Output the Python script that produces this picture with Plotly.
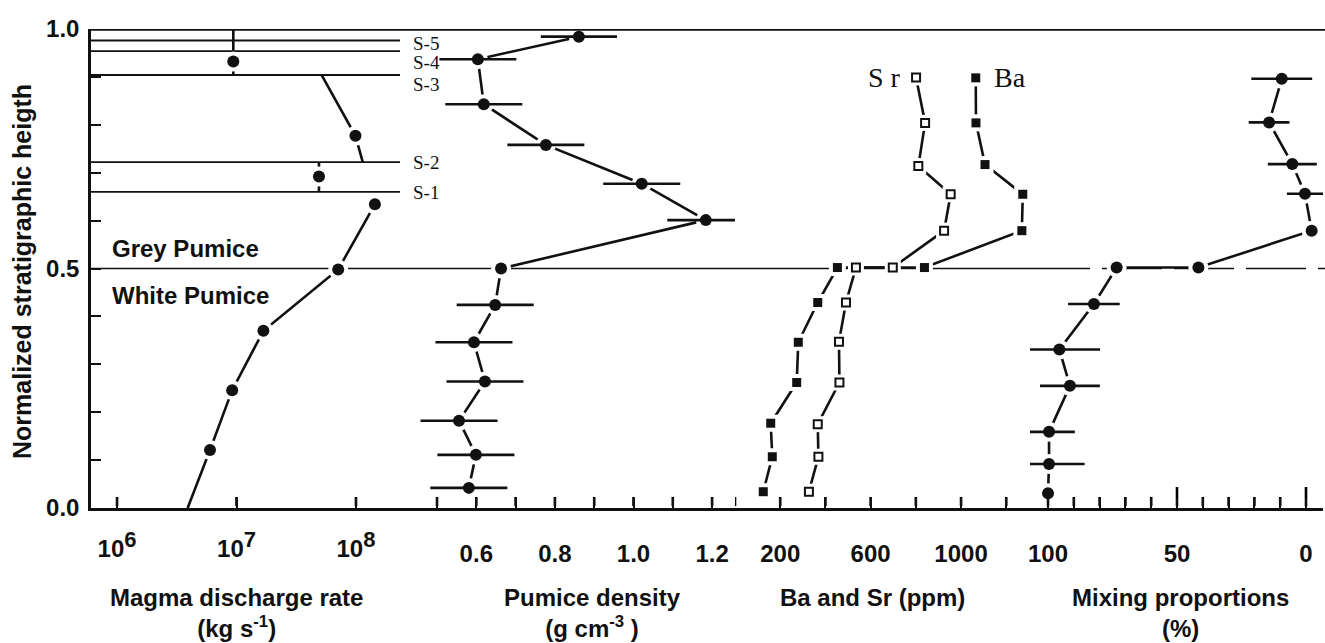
import plotly.graph_objects as go

# ---------------- data ----------------
# Panel 1: magma discharge rate (kg/s), lower continuous part
magma_height = [0.000, 0.121, 0.246, 0.370, 0.498, 0.634]
magma_rate = [3.9e6, 6.0e6, 9.2e6, 1.68e7, 7.1e7, 1.44e8]
magma_has_marker = [False, True, True, True, True, True]

# layered upper part (between S horizons)
layer_names = ["S-1", "S-2", "S-3", "S-4", "S-5"]
layer_heights = [0.660, 0.722, 0.904, 0.954, 0.976]

step1_height = [0.660, 0.692, 0.722]
step1_rate = [4.9e7, 4.9e7, 4.9e7]
step1_has_marker = [False, True, False]

mid_height = [0.722, 0.777, 0.904]
mid_rate = [1.14e8, 9.9e7, 5.15e7]
mid_has_marker = [False, True, False]

top_height = [0.904, 0.932, 1.000]
top_rate = [9.4e6, 9.4e6, 9.4e6]
top_has_marker = [False, True, False]

# Panel 2: pumice density (g/cm3)
density_height = [0.042, 0.111, 0.182, 0.264, 0.346, 0.424, 0.500, 0.601, 0.677, 0.758, 0.843, 0.937, 0.984]
density = [0.581, 0.599, 0.556, 0.622, 0.594, 0.648, 0.663, 1.184, 1.021, 0.777, 0.619, 0.604, 0.861]
density_err = [0.098, 0.098, 0.098, 0.098, 0.098, 0.098, 0.0, 0.098, 0.098, 0.098, 0.098, 0.098, 0.097]

# Panel 3: Ba and Sr (ppm)
ba_height = [0.034, 0.107, 0.177, 0.262, 0.346, 0.429, 0.502, 0.502, 0.579, 0.655, 0.717, 0.804, 0.898]
ba = [125, 165, 158, 273, 280, 366, 453, 838, 1269, 1273, 1106, 1066, 1065]
sr_height = [0.034, 0.107, 0.175, 0.262, 0.347, 0.429, 0.502, 0.502, 0.579, 0.655, 0.714, 0.804, 0.899]
sr = [327, 369, 366, 462, 460, 491, 535, 698, 925, 954, 811, 841, 801]

# Panel 4: mixing proportions (%)
mix_height = [0.031, 0.092, 0.159, 0.255, 0.331, 0.426, 0.502, 0.502, 0.579, 0.656, 0.718, 0.805, 0.896]
mix = [100.0, 99.6, 99.6, 91.5, 95.6, 82.2, 73.4, 41.7, -2.2, 0.4, 5.3, 14.3, 9.4]
mix_err = [0, 13.8, 10.0, 11.6, 15.8, 10.0, 0, 0, 0, 7.0, 9.5, 7.9, 11.8]

# tick labels
y_tickvals = [round(i * 0.1, 1) for i in range(11)]
y_ticktext = ["0.0", "", "", "", "", "0.5", "", "", "", "", "1.0"]
rate_tickvals = [1e6, 1e7, 1e8]
rate_exponents = ["6", "7", "8"]
dens_tickvals = [0.5, 0.6, 0.7, 0.8, 0.9, 1.0, 1.1, 1.2]
dens_ticktext = ["", "0.6", "", "0.8", "", "1.0", "", "1.2"]
ppm_tickvals = [0, 200, 400, 600, 800, 1000, 1200]
ppm_ticktext = ["", "200", "", "600", "", "1000", ""]
mix_tickvals = [0, 10, 20, 30, 40, 50, 60, 70, 80, 90, 100]
mix_ticktext = ["0", "", "", "", "", "50", "", "", "", "", "100"]
mix_long_ticks = [0, 50]

# ---------------- layout geometry ----------------
W, H = 1325, 643
ML, MR, MT, MB = 91, 2, 29, 135
PW = W - ML - MR
PH = H - MT - MB


def px_x(px):
    return (px - ML) / PW


def px_y(py):
    return (H - MB - py) / PH


d1, d2, d3 = px_x(420), px_x(735), px_x(1030)
mix_range = [106.98, -6.59]

SANS = "Liberation Sans"
SERIF = "Liberation Serif"
BLACK = "#111111"

fig = go.Figure()


def add_series(x, y, xaxis, symbol="circle", size=12, has_marker=None,
               err=None, open_marker=False, gap=8):
    n = len(x)
    if has_marker is None:
        has_marker = [True] * n
    sizes = [size if m else 0 for m in has_marker]
    gap_sizes = [size + gap if m else 0 for m in has_marker]
    gap_symbol = symbol.replace("-open", "")
    fig.add_trace(go.Scatter(
        x=x, y=y, xaxis=xaxis, yaxis="y", mode="lines+markers",
        line=dict(color=BLACK, width=2.6),
        marker=dict(symbol=gap_symbol, size=gap_sizes, color="white",
                    opacity=1, line=dict(width=0)),
        showlegend=False, hoverinfo="skip", cliponaxis=False))
    ekw = {}
    if err is not None:
        ekw["error_x"] = dict(type="data", array=err, symmetric=True,
                              color=BLACK, thickness=2.6, width=0)
    fig.add_trace(go.Scatter(
        x=x, y=y, xaxis=xaxis, yaxis="y", mode="markers",
        marker=dict(symbol=symbol, size=sizes, color=BLACK, opacity=1,
                    line=dict(color=BLACK, width=2 if open_marker else 0)),
        showlegend=False, cliponaxis=False, **ekw))


# panel 1
add_series(magma_rate, magma_height, "x", has_marker=magma_has_marker)
add_series(step1_rate, step1_height, "x", has_marker=step1_has_marker)
add_series(mid_rate, mid_height, "x", has_marker=mid_has_marker)
add_series(top_rate, top_height, "x", has_marker=top_has_marker)
# panel 2
add_series(density, density_height, "x2", err=density_err)
# panel 3
add_series(ba, ba_height, "x3", symbol="square", size=9, gap=8)
add_series(sr, sr_height, "x3", symbol="square-open", size=8, gap=8,
           open_marker=True)
# panel 4
add_series(mix, mix_height, "x4", err=mix_err)

# inward tick marks on the bottom axes, drawn as short vertical line traces
TICK = 11 / PH
LONG_TICK = 21 / PH
tick_sets = [
    ("x", rate_tickvals, TICK),
    ("x2", dens_tickvals, TICK),
    ("x3", ppm_tickvals, TICK),
    ("x4", [v for v in mix_tickvals if v not in mix_long_ticks], TICK),
    ("x4", mix_long_ticks, LONG_TICK),
]
for ax, vals, ln in tick_sets:
    tx, ty = [], []
    for v in vals:
        tx += [v, v, None]
        ty += [0.004, ln, None]
    fig.add_trace(go.Scatter(x=tx, y=ty, xaxis=ax, yaxis="y", mode="lines",
                             line=dict(color="#000000", width=2.6),
                             connectgaps=False, showlegend=False,
                             hoverinfo="skip"))

# ---------------- shapes ----------------
shapes = []
for h in layer_heights:
    shapes.append(dict(type="line", xref="paper", yref="y", x0=0, x1=px_x(400),
                       y0=h, y1=h, line=dict(color=BLACK, width=1.8),
                       layer="below"))
shapes.append(dict(type="line", xref="paper", yref="y", x0=0, x1=d3,
                   y0=0.5, y1=0.5, line=dict(color=BLACK, width=1.6),
                   layer="below"))
shapes.append(dict(type="line", xref="paper", yref="y", x0=d3, x1=px_x(W),
                   y0=0.5, y1=0.5,
                   line=dict(color=BLACK, width=1.6, dash="60px,12px"),
                   layer="below"))
shapes.append(dict(type="line", xref="paper", yref="y", x0=0, x1=px_x(W),
                   y0=1.0, y1=1.0, line=dict(color=BLACK, width=3.5)))

# ---------------- annotations ----------------
ann = []
label_pos_y = [192.5, 162.5, 85, 62, 43.5]
for name, py in zip(layer_names, label_pos_y):
    ann.append(dict(text=name, xref="paper", yref="paper", x=px_x(411),
                    y=px_y(py), xanchor="left", yanchor="middle",
                    showarrow=False,
                    font=dict(family=SERIF, size=19, color=BLACK)))

bold24 = dict(family=SANS, size=24, color=BLACK, weight="bold")
ann.append(dict(text="Grey Pumice", xref="paper", yref="paper", x=px_x(110),
                y=px_y(248), xanchor="left", yanchor="middle", showarrow=False,
                font=bold24))
ann.append(dict(text="White Pumice", xref="paper", yref="paper", x=px_x(110),
                y=px_y(295), xanchor="left", yanchor="middle", showarrow=False,
                font=bold24))

ann.append(dict(text="S r", xref="paper", yref="paper", x=px_x(884),
                y=px_y(78), xanchor="center", yanchor="middle", showarrow=False,
                font=dict(family=SERIF, size=28, color=BLACK)))
ann.append(dict(text="Ba", xref="paper", yref="paper", x=px_x(1010),
                y=px_y(78), xanchor="center", yanchor="middle", showarrow=False,
                font=dict(family=SERIF, size=28, color=BLACK)))

titles = [
    ("Magma discharge rate<br>(kg s<sup>-1</sup>)", 236),
    ("Pumice density<br>(g cm<sup>-3</sup> )", 592),
    ("Ba and Sr (ppm)<br> ", 872),
    ("Mixing proportions<br>(%)", 1180),
]
for txt, px in titles:
    ann.append(dict(text=txt, xref="paper", yref="paper", x=px_x(px),
                    y=px_y(613), xanchor="center", yanchor="middle",
                    showarrow=False, font=bold24))

ann.append(dict(text="Normalized stratigraphic heigth", xref="paper",
                yref="paper", x=px_x(22), y=px_y(272), xanchor="center",
                yanchor="middle", textangle=-90, showarrow=False,
                font=dict(family=SANS, size=25, color=BLACK, weight="bold")))

tickfont = dict(family=SANS, size=24, color=BLACK, weight="bold")
common_x = dict(anchor="y", showline=True, linecolor=BLACK, linewidth=3,
                ticks="inside", tickcolor=BLACK, tickwidth=2, ticklen=10,
                showgrid=False, zeroline=False, tickfont=tickfont,
                tickmode="array", layer="above traces")

rate_ticktext = ["10<sup><span style='font-size:22px'>%s</span></sup>" % e
                 for e in rate_exponents]

fig.update_layout(
    width=W, height=H, autosize=False,
    margin=dict(l=ML, r=MR, t=MT, b=MB),
    paper_bgcolor="white", plot_bgcolor="white",
    showlegend=False,
    xaxis=dict(domain=[0, d1], type="log", range=[5.782, 8.536],
               tickvals=rate_tickvals, ticktext=rate_ticktext,
               ticklabelstandoff=17, **common_x),
    xaxis2=dict(domain=[d1, d2], range=[0.4567, 1.2583],
                tickvals=dens_tickvals, ticktext=dens_ticktext,
                ticklabelstandoff=22, **common_x),
    xaxis3=dict(domain=[d2, d3], range=[0, 1305],
                tickvals=ppm_tickvals, ticktext=ppm_ticktext,
                ticklabelstandoff=22, **common_x),
    xaxis4=dict(domain=[d3, 1], range=mix_range,
                tickvals=mix_tickvals, ticktext=mix_ticktext,
                ticklabelstandoff=22, **common_x),
    yaxis=dict(domain=[0, 1], range=[0, 1], tickmode="array",
               tickvals=y_tickvals, ticktext=y_ticktext,
               showline=True, linecolor=BLACK, linewidth=2.5,
               ticks="inside", tickcolor=BLACK, tickwidth=2, ticklen=10,
               showgrid=False, zeroline=False, tickfont=tickfont,
               ticklabelstandoff=4),
    shapes=shapes,
    annotations=ann,
)

fig.write_html("out.html")
